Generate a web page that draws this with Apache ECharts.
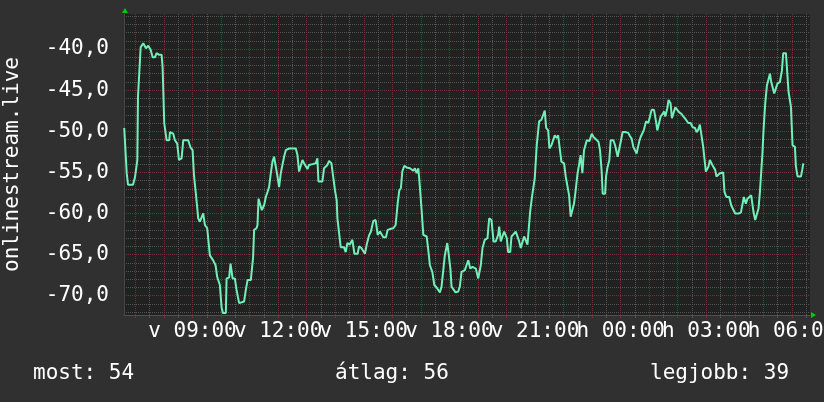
<!DOCTYPE html>
<html><head><meta charset="utf-8">
<script src="https://cdn.jsdelivr.net/npm/echarts@6/dist/echarts.min.js"></script>
<style>html,body{margin:0;padding:0;background:#303030}#c{width:824px;height:402px}</style>
</head><body><div id="c"></div><script>
// time in minutes since Sunday (v) 00:00; values in the unit shown on the y axis
const times = [
396.5,401.7,404.4,414.9,419.1,424.0,425.4,429.6,431.0,436.5,
442.2,447.0,452.0,456.2,461.0,464.6,470.1,475.1,477.2,480.6,
485.6,491.1,492.6,499.5,503.0,507.9,511.5,517.1,520.5,531.0,
536.0,540.2,543.0,547.1,552.0,555.5,559.1,562.5,566.0,570.9,
575.0,576.5,583.4,588.5,591.8,597.5,601.1,603.8,610.1,611.6,
617.0,620.0,624.2,629.0,632.6,638.0,648.5,652.1,655.7,662.6,
667.4,669.5,674.5,676.6,678.8,681.5,685.7,690.5,694.1,697.6,
701.0,704.6,708.1,711.5,715.1,718.6,722.0,725.6,729.1,732.5,
736.1,743.0,757.1,760.6,764.0,767.5,771.1,774.5,778.0,781.6,
784.9,792.1,799.0,802.6,804.7,813.1,816.5,823.6,827.0,832.0,
835.4,839.5,843.1,844.6,847.9,851.5,858.4,862.0,865.6,870.4,
876.1,880.3,887.2,890.0,895.0,899.2,902.5,906.1,910.9,915.1,
920.1,925.0,929.2,934.0,937.6,941.1,946.6,950.2,955.0,962.1,
967.0,971.2,974.7,978.1,981.0,985.2,990.1,997.0,1004.2,1007.5,
1011.1,1014.7,1018.0,1021.6,1025.2,1032.2,1035.7,1039.0,1044.1,1048.3,
1053.1,1060.0,1063.5,1067.1,1070.4,1075.5,1078.8,1082.4,1084.5,1088.1,
1092.9,1098.6,1101.9,1105.5,1112.4,1116.0,1119.6,1122.3,1123.8,1128.6,
1135.5,1140.6,1143.3,1146.0,1149.6,1154.4,1160.1,1163.6,1168.5,1172.7,
1177.5,1182.5,1184.6,1188.0,1191.6,1195.1,1200.6,1203.5,1207.8,1210.5,
1214.7,1219.5,1223.1,1226.7,1230.0,1233.6,1237.1,1240.5,1244.1,1247.6,
1249.7,1253.1,1256.7,1259.4,1261.5,1263.6,1267.2,1268.6,1273.4,1277.6,
1280.4,1283.4,1287.6,1290.3,1294.5,1298.7,1301.4,1305.7,1308.6,1312.8,
1315.4,1321.1,1324.5,1328.0,1331.6,1334.9,1338.5,1342.0,1345.4,1349.0,
1352.5,1355.9,1359.5,1363.0,1368.8,1374.4,1379.3,1382.9,1388.5,1393.4,
1396.6,1400.1,1402.2,1407.3,1409.3,1412.0,1416.2,1419.0,1424.7,1428.3,
1431.6,1433.7,1437.2,1440.0,1444.2,1449.2,1456.0,1459.7,1463.1,1466.6,
1470.2,1473.5,1477.1,1479.2,1482.0,1486.2,1489.1,1493.3,1498.1,1501.6,
1505.0,1510.1,1514.3,1517.0,1521.2,1524.0,1528.2,1531.1,1533.8,1538.0,
1540.7,1544.9,1547.8,1552.0,1554.8,1559.0,1563.2,1568.1,1571.6,1577.3,
1582.1,1587.0,1591.2,1596.2,1599.6,1603.2,1606.5,1610.7,1613.5,1617.7,
1619.1,1622.5,1624.6,1627.5,1631.7,1634.5,1638.7,1641.4,1645.6,1648.6,
1655.5,1658.3,1662.5,1668.2,1672.3,1676.5,1680.7,1687.7,1692.7,1696.1,
1699.0,1703.2,1706.6,1710.2,1714.4,1717.1,1719.2,1722.8,1727.0,1729.8,
1732.7,1736.9,1738.2,1740.3,1743.9,1747.5,1750.8,1753.8,1756.5,1760.7,
1762.8,1766.4,1769.7,1774.8,1779.0,1781.7,1787.4,1790.8,1792.9,1797.9,
1801.3,1806.3,1808.4,1811.8,1819.0,1821.7,1823.8
];
const values = [
-49.6,-55.1,-56.5,-56.5,-55.6,-53.5,-45.8,-45.6,-39.8,-39.3,
-39.9,-39.6,-40.1,-41.0,-41.0,-40.5,-40.7,-40.7,-42.3,-49.0,
-51.1,-51.1,-50.1,-50.3,-51.1,-51.5,-53.5,-53.3,-51.1,-51.1,
-52.0,-52.3,-55.3,-57.6,-60.6,-61.0,-60.8,-60.0,-61.4,-61.8,
-62.0,-65.1,-65.7,-66.3,-67.7,-68.7,-71.4,-72.1,-72.1,-67.9,
-67.8,-66.1,-67.9,-67.9,-69.3,-70.9,-70.7,-69.3,-68.1,-68.1,
-65.3,-62.0,-61.8,-61.4,-58.2,-58.0,-59.6,-59.0,-58.0,-57.4,
-56.8,-55.1,-53.7,-53.1,-54.3,-55.5,-56.8,-55.1,-55.1,-53.1,
-52.3,-52.1,-52.1,-52.9,-54.9,-54.9,-53.5,-53.9,-54.1,-54.6,
-54.1,-54.0,-53.9,-53.3,-56.1,-56.1,-54.5,-54.1,-53.6,-53.9,
-54.1,-57.2,-58.4,-60.6,-60.7,-64.1,-64.1,-64.7,-63.6,-63.8,
-63.2,-64.9,-64.9,-64.0,-64.2,-64.4,-64.9,-63.8,-62.7,-62.2,
-60.9,-60.8,-62.6,-62.2,-62.0,-62.9,-62.9,-62.0,-61.9,-61.8,
-61.4,-58.8,-57.2,-56.9,-54.9,-54.2,-54.4,-54.5,-54.8,-54.5,
-55.1,-54.5,-56.8,-59.6,-62.6,-62.8,-64.5,-66.3,-67.1,-68.7,
-69.0,-69.6,-68.9,-68.7,-65.1,-63.6,-65.1,-66.9,-68.9,-68.9,
-69.6,-69.5,-68.9,-67.1,-66.9,-66.3,-65.7,-65.5,-66.7,-66.5,
-66.7,-67.9,-67.9,-66.3,-64.2,-63.2,-63.0,-60.6,-60.8,-63.4,
-63.4,-62.6,-61.6,-63.4,-63.6,-62.2,-63.0,-64.7,-64.7,-62.8,
-62.6,-62.2,-62.4,-63.4,-64.2,-64.2,-62.8,-62.6,-63.8,-63.6,
-59.8,-58.2,-58.4,-55.7,-55.5,-51.7,-51.6,-48.8,-48.6,-48.4,
-47.5,-49.6,-49.9,-52.1,-51.7,-51.6,-50.5,-50.8,-50.5,-50.5,
-53.7,-53.9,-55.5,-55.7,-57.8,-60.4,-60.4,-58.8,-57.2,-55.3,
-55.1,-52.9,-55.1,-52.3,-51.1,-51.2,-50.3,-50.7,-51.0,-51.3,
-52.3,-54.9,-57.6,-57.6,-55.5,-54.5,-53.5,-51.1,-51.1,-51.7,
-51.5,-53.1,-53.1,-51.3,-50.1,-50.1,-50.2,-50.6,-50.9,-51.9,
-52.1,-52.7,-52.7,-51.2,-50.7,-50.6,-49.8,-48.8,-49.0,-48.2,
-47.4,-47.4,-48.8,-49.9,-50.1,-48.2,-47.9,-47.6,-48.2,-47.2,
-46.2,-46.6,-48.4,-48.4,-47.1,-47.0,-47.7,-47.9,-48.2,-48.6,
-49.0,-49.0,-49.5,-49.6,-50.1,-49.8,-49.2,-49.2,-51.9,-52.0,
-54.9,-54.9,-54.3,-53.5,-53.5,-54.3,-54.7,-55.5,-55.6,-55.1,
-55.0,-57.4,-58.0,-58.0,-59.0,-59.1,-60.0,-60.0,-59.9,-59.9,
-58.0,-58.8,-58.2,-58.0,-57.8,-57.9,-59.8,-60.8,-60.8,-59.4,
-57.4,-57.2,-52.5,-49.9,-46.6,-44.4,-44.2,-43.0,-44.0,-44.1,
-45.4,-45.4,-44.2,-44.0,-42.6,-40.5,-40.5,-40.6,-45.2,-47.0,
-51.7,-51.9,-54.3,-55.5,-55.5,-54.7,-53.9
];
const xTickTimes = [540, 720, 900, 1080, 1260, 1440, 1620, 1800];
const xTickLabels = ['v 09:00', 'v 12:00', 'v 15:00', 'v 18:00', 'v 21:00', 'h 00:00', 'h 03:00', 'h 06:00'];
const yTickValues = [-70, -65, -60, -55, -50, -45, -40];
const yTickLabels = ['-70,0', '-65,0', '-60,0', '-55,0', '-50,0', '-45,0', '-40,0'];
const seriesName = 'onlinestream.live';
const statLabels = ['most: 54', 'átlag: 56', 'legjobb: 39'];

const X_MIN = 396, X_MAX = 1838, Y_MIN = -72.35, Y_MAX = -35.74;
const hourLines = [], halfLines = [], yMinor = [], yMajor = [];
for (let m = 420; m <= X_MAX; m += 60) hourLines.push(m);
for (let m = 450; m <= X_MAX; m += 60) halfLines.push(m);
for (let v = -72; v <= -36; v++) (v % 5 !== 0 ? yMinor : yMajor).push(v);

const FONT = 'DejaVu Sans Mono';
const GRAY = '#545454', RED = '#733232';

function gridAxisX(vals, color) {
  return {type: 'value', min: X_MIN, max: X_MAX, position: 'bottom',
    axisLine: {show: false},
    axisLabel: {show: false, customValues: vals},
    axisTick: {show: true, customValues: vals, length: 3, lineStyle: {color: color}},
    splitLine: {show: true, lineStyle: {color: color, type: [1, 1], width: 1}}};
}
function gridAxisY(vals, color) {
  return {type: 'value', min: Y_MIN, max: Y_MAX, position: 'left',
    axisLine: {show: false},
    axisLabel: {show: false, customValues: vals},
    axisTick: {show: false, customValues: vals},
    splitLine: {show: true, lineStyle: {color: color, type: [1, 1], width: 1}}};
}
// labels split over two overlaid axes so neighbouring labels never collide inside one axis
function labelAxisX(parity, withLine) {
  const vals = xTickTimes.filter((_, i) => i % 2 === parity);
  return {type: 'value', min: X_MIN, max: X_MAX, position: 'bottom',
    axisLine: {show: withLine, onZero: false, lineStyle: {color: '#505050'}},
    axisTick: {show: false, customValues: vals},
    splitLine: {show: false},
    axisLabel: {customValues: vals, margin: 6, color: '#ffffff', fontFamily: FONT, fontSize: 21,
      showMinLabel: true, showMaxLabel: true, hideOverlap: false,
      formatter: v => xTickLabels[xTickTimes.indexOf(v)] || ''}};
}

const chart = echarts.init(document.getElementById('c'), null, {renderer: 'canvas'});
chart.setOption({
  animation: false,
  backgroundColor: '#303030',
  grid: {left: 124, right: 14, top: 14, bottom: 87, show: true, backgroundColor: '#212121',
         borderWidth: 0, containLabel: false, outerBoundsMode: 'none'},
  title: statLabels.map((t, i) => ({
    text: t, left: [33, 335, 650][i], top: 363, padding: 0,
    textStyle: {color: '#ffffff', fontFamily: FONT, fontSize: 21, fontWeight: 'normal'}
  })),
  xAxis: [
    gridAxisX(halfLines, GRAY),
    gridAxisX(hourLines, RED),
    labelAxisX(0, true),
    labelAxisX(1, false)
  ],
  yAxis: [
    gridAxisY(yMinor, GRAY),
    gridAxisY(yMajor, RED),
    {type: 'value', min: Y_MIN, max: Y_MAX, position: 'left',
     name: seriesName, nameLocation: 'middle', nameGap: 101,
     nameTextStyle: {color: '#ffffff', fontFamily: FONT, fontSize: 21},
     axisLine: {show: true, onZero: false, lineStyle: {color: '#454545'}},
     axisTick: {show: false, customValues: yTickValues},
     splitLine: {show: false},
     axisLabel: {customValues: yTickValues, margin: 15, color: '#ffffff', fontFamily: FONT, fontSize: 21,
       showMinLabel: true, showMaxLabel: true, hideOverlap: false,
       formatter: v => yTickLabels[yTickValues.indexOf(v)] || ''}}
  ],
  graphic: [
    {type: 'polygon', shape: {points: [[122, 13], [128, 13], [125, 8]]}, style: {fill: '#00cc00'}},
    {type: 'polygon', shape: {points: [[811, 312], [811, 318], [816, 315]]}, style: {fill: '#00cc00'}}
  ],
  series: [{
    type: 'line', name: seriesName, xAxisIndex: 2, yAxisIndex: 2,
    data: times.map((t, i) => [t, values[i]]),
    showSymbol: false, symbol: 'none',
    lineStyle: {color: '#70f0b8', width: 2}
  }]
});
</script></body></html>
